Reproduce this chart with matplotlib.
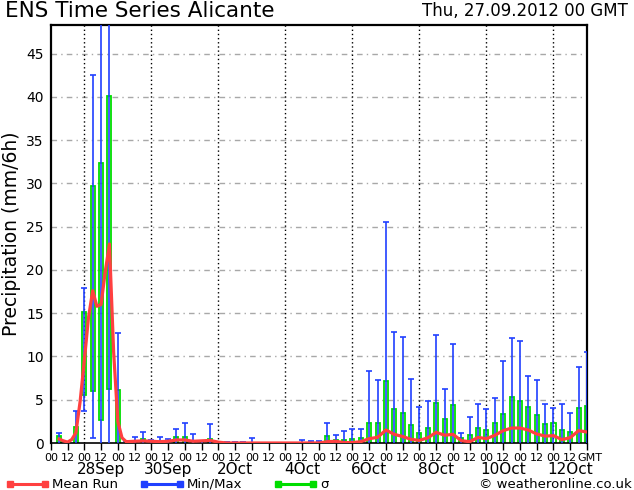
import matplotlib
matplotlib.use("Agg")
import matplotlib.pyplot as plt
from matplotlib.lines import Line2D
import numpy as np

# ensemble steps every 6h, hours after 27.09.2012 00 GMT
step_hours = np.arange(6, 390, 6)

ens_max = [1.1, 0.0, 3.7, 17.9, 42.5, 55.0, 52.0, 12.7, 0.2, 0.73,
           1.3, 0.3, 0.73, 0.46, 1.65, 2.35, 1.0, 0.2, 2.15, 0.1,
           0.1, 0.15, 0.15, 0.54, 0.0, 0.0, 0.0, 0.0, 0.0, 0.4,
           0.2, 0.2, 2.27, 0.88, 1.39, 1.58, 1.58, 8.29, 7.25, 25.5,
           12.8, 12.3, 7.36, 4.12, 4.82, 12.45, 6.2, 11.4, 1.12, 2.97,
           4.47, 3.9, 5.16, 9.44, 12.1, 11.75, 7.7, 7.24, 4.47, 4.0,
           4.47, 3.43, 8.75, 10.5]
ens_min = [0.0, 0.0, 0.0, 3.7, 0.55] + [0.0] * 59
sigma_hi = [0.8, 0.0, 1.8, 15.1, 29.7, 32.4, 40.1, 6.1, 0.05, 0.1,
            0.5, 0.05, 0.1, 0.05, 0.73, 0.73, 0.1, 0.05, 0.5, 0.0,
            0.0, 0.0, 0.0, 0.0, 0.0, 0.0, 0.0, 0.0, 0.0, 0.05,
            0.0, 0.0, 0.8, 0.35, 0.35, 0.46, 0.54, 2.27, 2.27, 7.13,
            3.9, 3.43, 2.04, 1.12, 1.7, 4.59, 2.74, 4.36, 0.54, 0.89,
            1.7, 1.5, 2.27, 3.31, 5.28, 4.82, 4.12, 3.2, 2.16, 2.27,
            1.5, 1.23, 4.0, 4.24]
sigma_lo = [0.0, 0.0, 0.0, 5.6, 6.0, 2.7, 6.2] + [0.0] * 57

mean_hours = [6, 9, 12, 15, 18, 21, 24, 27, 30, 33, 36, 39, 42, 45, 48, 51, 54] + list(range(60, 390, 6))
mean_run = [0.45, 0.25, 0.1, 0.4, 1.2, 4.8, 9.5, 14.5, 17.6, 15.8, 16.0, 19.8, 23.0, 10.5, 2.5, 0.6, 0.15,
            0.2, 0.25, 0.2, 0.15, 0.2, 0.35, 0.35, 0.2, 0.25, 0.3, 0.1,
            0, 0, 0, 0, 0, 0, 0, 0, 0, 0, 0, 0,
            0.15, 0.2, 0.05, 0.05, 0.15, 0.5, 0.65, 1.5, 1.0, 0.75,
            0.42, 0.3, 0.6, 1.23, 0.9, 1.0, 0.27, 0.15, 0.65, 0.5,
            0.89, 1.43, 1.73, 1.73, 1.5, 1.04, 0.8, 0.85, 0.39, 0.62,
            1.43, 1.27]

tick_hours = list(range(0, 385, 12))
tick_labels = ["00" if h % 24 == 0 else "12" for h in tick_hours[:-1]] + [""]
date_hours = [36, 84, 132, 180, 228, 276, 324, 372]
date_labels = ["28Sep", "30Sep", "2Oct", "4Oct", "6Oct", "8Oct", "10Oct", "12Oct"]
day_lines = [24, 72, 120, 168, 216, 264, 312, 360]

red = "#ff4040"
blue = "#2040ff"
green = "#00dd00"

fig = plt.figure(figsize=(6.34, 4.9), dpi=100)
ax = fig.add_axes([50.8 / 634, 47 / 490, (587 - 50.8) / 634, (443 - 25) / 490])
ax.set_xlim(0, 384)
ax.set_ylim(0, 48.3)

for y in range(5, 50, 5):
    ax.axhline(y, color="#a8a8a8", lw=1, ls=(0, (4, 3, 1, 3)), zorder=1)
for h in day_lines:
    ax.axvline(h, color="black", lw=1, ls=(0, (1, 2)), zorder=1)

box_w = 2.9
cap_w = 4.3
for h, lo, hi, mn, mx in zip(step_hours, sigma_lo, sigma_hi, ens_min, ens_max):
    if hi - lo > 0.02:
        ax.add_patch(plt.Rectangle((h - box_w / 2, lo), box_w, hi - lo, fill=False,
                                   edgecolor=green, lw=1.3, zorder=2))
    if mx > 0:
        ax.vlines(h, mn, mx, color=blue, lw=1.2, zorder=3)
        ax.hlines(mx, h - cap_w / 2, h + cap_w / 2, color=blue, lw=1.2, zorder=3)
        if mn > 0:
            ax.hlines(mn, h - cap_w / 2, h + cap_w / 2, color=blue, lw=1.2, zorder=3)

ax.plot(mean_hours, mean_run, color=red, lw=2.3, solid_joinstyle="round", zorder=4)

for s in ["left", "right", "top"]:
    ax.spines[s].set_linewidth(1.6)
ax.spines["bottom"].set_linewidth(1.2)

ax.set_yticks(range(0, 50, 5))
ax.tick_params(axis="y", length=0, labelsize=10, pad=5)
ax.set_xticks(tick_hours)
ax.set_xticklabels(tick_labels, fontsize=8)
ax.tick_params(axis="x", length=5, width=1, pad=2)
ax.set_ylabel("Precipitation (mm/6h)", fontsize=13.5, labelpad=4)

xt = ax.get_xaxis_transform()
ax.text(386, -0.024, "GMT", transform=xt, ha="center", va="top", fontsize=8)
for h, lab in zip(date_hours, date_labels):
    ax.text(h, -0.045, lab, transform=xt, ha="center", va="top", fontsize=11)

fig.text(5 / 634, 1 - 11 / 490, "ENS Time Series Alicante", fontsize=15.5, va="center", ha="left")
fig.text(628 / 634, 1 - 11 / 490, "Thu, 27.09.2012 00 GMT", fontsize=12, va="center", ha="right")

ly = 1 - 484 / 490
for x0, x1, c, lab in [(10, 45, red, "Mean Run"), (144, 180, blue, "Min/Max"), (278, 313, green, "\u03c3")]:
    fig.add_artist(Line2D([x0 / 634, x1 / 634], [ly, ly], color=c, lw=2.2, marker="s", markersize=4,
                          transform=fig.transFigure))
    fig.text((x1 + 7) / 634, ly, lab, fontsize=9.5, va="center", ha="left")
fig.text(632 / 634, ly, "\u00a9 weatheronline.co.uk", fontsize=9.5, va="center", ha="right")

fig.savefig("out.png", dpi=100)
